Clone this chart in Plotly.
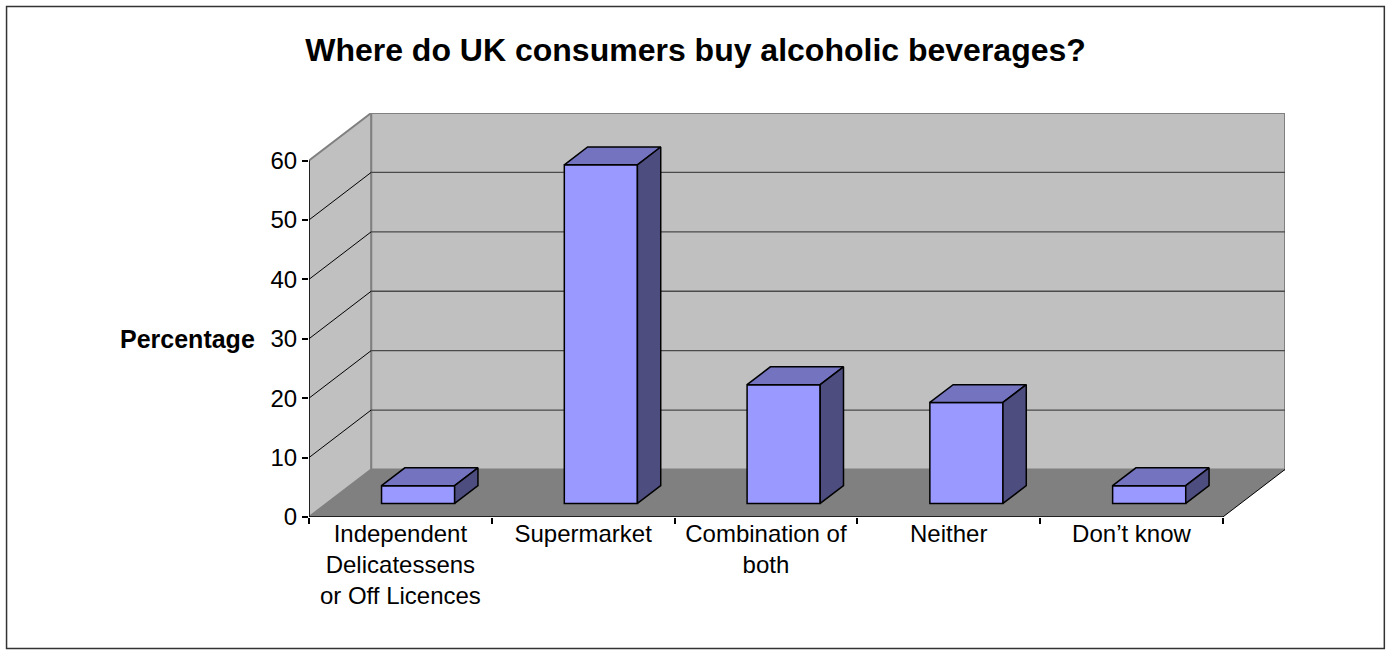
import plotly.graph_objects as go

# ---- data ----
categories = ["Independent<br>Delicatessens<br>or Off Licences", "Supermarket",
              "Combination of<br>both", "Neither", "Don’t know"]
percentages = [3, 57, 20, 17, 3]
y_ticks = [0, 10, 20, 30, 40, 50, 60]
title_text = "<b>Where do UK consumers buy alcoholic beverages?</b>"
y_title = "<b>Percentage</b>"

# ---- 3D projection settings (in axis units) ----
YMAX = 60
DX, DY = 0.34, 8.0          # depth offset of the back wall
D0, D1 = 0.285, 0.66        # bar depth range (fraction of total depth)
BAR_W = 0.4
n = len(categories)

W, H = 1391, 655
L, T = 309, 113
PX_PER_CAT = 182.8
PX_PER_UNIT = 5.94
plot_w = (n + DX) * PX_PER_CAT
plot_h = (YMAX + DY) * PX_PER_UNIT
R = W - L - plot_w
B = H - T - plot_h

FONT = "Arial, Liberation Sans, sans-serif"
FRONT, TOP, SIDE = "#9999FF", "#7373BF", "#4D4D80"

fig = go.Figure()

# front faces as real bars
base = D0 * DY
xc = [i + 0.5 + D0 * DX for i in range(n)]
fig.add_trace(go.Bar(x=xc, y=percentages, base=base, width=BAR_W,
                     marker=dict(color=FRONT, line=dict(color="black", width=1.5)),
                     hoverinfo="skip", xaxis="x", yaxis="y"))

ddx = (D1 - D0) * DX
ddy = (D1 - D0) * DY
tx, ty, sx, sy = [], [], [], []
for c, v in zip(xc, percentages):
    xl, xr = c - BAR_W / 2, c + BAR_W / 2
    top = base + v
    tx += [xl, xr, xr + ddx, xl + ddx, xl, None]
    ty += [top, top, top + ddy, top + ddy, top, None]
    sx += [xr, xr + ddx, xr + ddx, xr, xr, None]
    sy += [base, base + ddy, top + ddy, top, base, None]
fig.add_trace(go.Scatter(x=tx, y=ty, mode="lines", fill="toself", fillcolor=TOP,
                         line=dict(color="black", width=1.5), hoverinfo="skip"))
fig.add_trace(go.Scatter(x=sx, y=sy, mode="lines", fill="toself", fillcolor=SIDE,
                         line=dict(color="black", width=1.5), hoverinfo="skip"))
# invisible trace to host tick-mark axis
fig.add_trace(go.Scatter(x=[0], y=[0], xaxis="x2", mode="markers",
                         marker=dict(opacity=0), hoverinfo="skip"))

shapes = []
def path(pts):
    return "M " + " L ".join(f"{x},{y}" for x, y in pts) + " Z"

# back wall
shapes.append(dict(type="path", xref="x", yref="y", layer="below",
                   path=path([(DX, DY), (n + DX, DY), (n + DX, YMAX + DY), (DX, YMAX + DY)]),
                   fillcolor="#C0C0C0", line=dict(color="#808080", width=2)))
# left wall
shapes.append(dict(type="path", xref="x", yref="y", layer="below",
                   path=path([(0, 0), (DX, DY), (DX, YMAX + DY), (0, YMAX)]),
                   fillcolor="#C0C0C0", line=dict(color="#808080", width=2)))
# floor
shapes.append(dict(type="path", xref="x", yref="y", layer="below",
                   path=path([(0, 0), (n, 0), (n + DX, DY), (DX, DY)]),
                   fillcolor="#808080", line=dict(width=0)))
# gridlines
for v in y_ticks[1:-1]:
    shapes.append(dict(type="line", xref="x", yref="y", layer="below",
                       x0=DX, x1=n + DX, y0=v + DY, y1=v + DY,
                       line=dict(color="#4A4A4A", width=1.3)))
    shapes.append(dict(type="line", xref="x", yref="y", layer="below",
                       x0=0, x1=DX, y0=v, y1=v + DY,
                       line=dict(color="black", width=1)))
# axis lines
shapes.append(dict(type="line", xref="x", yref="y", layer="below",
                   x0=0, x1=0, y0=0, y1=YMAX, line=dict(color="black", width=1.5)))
shapes.append(dict(type="line", xref="x", yref="y", layer="below",
                   x0=0, x1=n, y0=0, y1=0, line=dict(color="black", width=1.5)))
shapes.append(dict(type="line", xref="x", yref="y", layer="below",
                   x0=n, x1=n + DX, y0=0, y1=DY, line=dict(color="black", width=1)))
# outer border
shapes.append(dict(type="rect", xref="paper", yref="paper",
                   x0=(6.5 - L) / plot_w, x1=(W - 6.5 - L) / plot_w,
                   y0=-(H - 6.5 - T - plot_h) / plot_h, y1=1 + (T - 6.5) / plot_h,
                   line=dict(color="#333333", width=1.5)))

fig.update_layout(
    width=W, height=H,
    margin=dict(l=L, r=R, t=T, b=B, pad=0),
    paper_bgcolor="white", plot_bgcolor="white",
    showlegend=False,
    shapes=shapes,
    font=dict(family=FONT, color="black", size=24),
    title=dict(text=title_text, x=0.5, xanchor="center", xref="container",
               y=1 - 50 / H, yanchor="middle", yref="container",
               font=dict(family=FONT, size=32, color="black")),
    xaxis=dict(range=[0, n + DX], tickvals=[i + 0.5 for i in range(n)],
               ticktext=categories, ticks="", showgrid=False, zeroline=False,
               showline=False, tickfont=dict(size=24, family=FONT)),
    xaxis2=dict(range=[0, n + DX], overlaying="x", anchor="y", side="bottom",
                tickvals=list(range(n + 1)), ticks="outside", ticklen=6,
                tickwidth=1.5, tickcolor="black", showticklabels=False,
                showgrid=False, zeroline=False, showline=False),
    yaxis=dict(range=[0, YMAX + DY], tickvals=y_ticks, ticks="outside", ticklen=6,
               tickwidth=1.5, tickcolor="black", showgrid=False, zeroline=False,
               showline=False, tickfont=dict(size=24, family=FONT)),
    annotations=[dict(text=y_title, xref="paper", yref="y",
                      x=(257 - L) / plot_w, y=30, xanchor="right", yanchor="middle",
                      showarrow=False, font=dict(size=25, family=FONT))],
)

fig.write_html("out.html", config={"displayModeBar": False})
